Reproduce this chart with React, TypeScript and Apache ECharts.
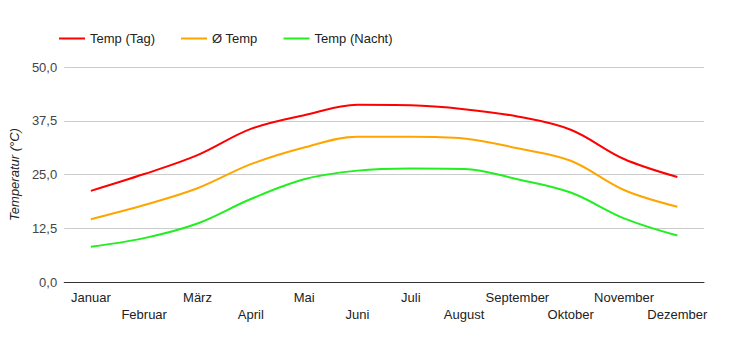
import React, { useEffect, useRef } from "react";
import * as echarts from "echarts";

const months = ["Januar", "Februar", "März", "April", "Mai", "Juni", "Juli", "August", "September", "Oktober", "November", "Dezember"];
const tempDay = [21.2, 25.1, 29.5, 35.6, 38.8, 41.2, 41.1, 40.2, 38.5, 35.4, 28.6, 24.4];
const tempAvg = [14.6, 17.9, 21.8, 27.4, 31.3, 33.8, 33.8, 33.4, 31.1, 28.2, 21.4, 17.5];
const tempNight = [8.2, 10.2, 13.6, 19.3, 23.9, 25.9, 26.4, 26.3, 23.9, 20.8, 14.8, 10.8];

export default function App() {
  const ref = useRef<HTMLDivElement>(null);
  useEffect(() => {
    if (!ref.current) return;
    const chart = echarts.init(ref.current, null, { renderer: "svg" });
    const font = "Arial, 'Liberation Sans', sans-serif";
    const mk = (name: string, data: number[], color: string) => ({
      name,
      type: "line",
      data,
      smooth: 0.35,
      showSymbol: false,
      symbol: "none",
      lineStyle: { width: 2, color },
      itemStyle: { color },
    });
    chart.setOption({
      animation: false,
      textStyle: { fontFamily: font },
      legend: {
        top: 27,
        left: 54,
        itemWidth: 26,
        itemHeight: 2,
        itemGap: 26,
        icon: "rect",
        textStyle: { fontSize: 13, color: "#222", fontFamily: font },
        data: ["Temp (Tag)", "Ø Temp", "Temp (Nacht)"],
      },
      grid: { left: 59, right: 46, top: 67, bottom: 68, containLabel: false },
      xAxis: {
        type: "category",
        data: months,
        boundaryGap: true,
        axisLine: { lineStyle: { color: "#333", width: 1 } },
        axisTick: { show: false },
        axisLabel: {
          interval: 0,
          margin: 7,
          fontSize: 13,
          color: "#222",
          lineHeight: 17,
          fontFamily: font,
          formatter: (v: string, i: number) => (i % 2 ? "\n" + v : v),
        },
      },
      yAxis: {
        type: "value",
        min: 0,
        max: 50,
        interval: 12.5,
        name: "Temperatur (°C)",
        nameLocation: "middle",
        nameGap: 42,
        nameTextStyle: { fontStyle: "italic", fontSize: 13, color: "#222", fontFamily: font },
        axisLine: { show: false },
        axisTick: { show: false },
        splitLine: { lineStyle: { color: "#ccc", width: 1 } },
        axisLabel: {
          fontSize: 13,
          color: "#444",
          margin: 7,
          fontFamily: font,
          formatter: (v: number) => v.toFixed(1).replace(".", ","),
        },
      },
      series: [
        mk("Temp (Tag)", tempDay, "#ff0000"),
        mk("Ø Temp", tempAvg, "#ffa500"),
        mk("Temp (Nacht)", tempNight, "#22ee22"),
      ],
    });
    return () => chart.dispose();
  }, []);
  return <div ref={ref} style={{ width: 750, height: 350, position: "absolute", left: 0, top: 0 }} />;
}
